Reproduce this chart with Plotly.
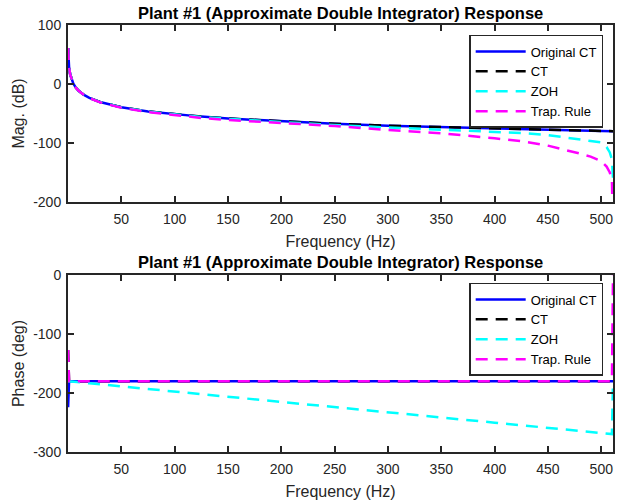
import plotly.graph_objects as go

# ---- data ----
freq_hz = [0.1, 0.5, 1, 2, 3, 5, 7.5, 10, 15, 20, 30, 40, 50, 75, 100, 125, 150,
           200, 250, 300, 350, 400, 425, 450, 470, 480, 490, 500, 505, 508, 510, 511]

orig_mag = [61, 40, 28.5, 16.5, 9.5, 0.5, -6.5, -11.5, -18.5, -23.5, -30.5, -35.5, -39.5,
            -46.5, -51.5, -55.3, -58.5, -63.5, -67.5, -70.7, -73.3, -75.6, -76.6, -77.6,
            -78.4, -78.7, -79.1, -79.5, -79.7, -79.8, -79.8, -79.9]
ct_mag = [61, 40, 28.5, 16.5, 9.5, 0.5, -6.5, -11.5, -18.5, -23.5, -30.5, -35.5, -39.5,
          -46.5, -51.5, -55.3, -58.5, -63.5, -67.5, -70.7, -73.3, -75.6, -76.6, -77.6,
          -78.4, -78.7, -79.1, -79.5, -79.7, -79.8, -79.8, -79.9]
zoh_mag = [61, 40, 28.5, 16.5, 9.5, 0.5, -6.5, -11.5, -18.5, -23.5, -30.6, -35.6, -39.6,
           -46.7, -51.8, -55.8, -59.1, -64.5, -69.5, -73.7, -77.1, -80.8, -83.1, -86.6,
           -91, -94.2, -96.6, -99, -107, -116, -128, -160]
trap_mag = [61, 40, 28.4, 16.4, 9.4, 0.4, -6.6, -11.6, -18.7, -23.8, -31, -36.2, -40.3,
            -47.8, -53, -57.5, -61, -65.6, -71.2, -78, -83.6, -92, -97, -104.5,
            -113, -118, -123, -131, -140, -150, -165, -250]

orig_phase = [-224, -180, -180, -180, -180, -180, -180, -180, -180, -180, -180, -180, -180,
              -180, -180, -180, -180, -180, -180, -180, -180, -180, -180, -180, -180, -180,
              -180, -180, -180, -180, -180, -180]
ct_phase = [-127, -180, -180, -180, -180, -180, -180, -180, -180, -180, -180, -180, -180,
            -180, -180, -180, -180, -180, -180, -180, -180, -180, -180, -180, -180, -180,
            -180, -180, -180, -180, -180, -180]
zoh_phase = [-180, -180.1, -180.2, -180.4, -180.5, -180.9, -181.3, -181.8, -182.6, -183.5,
             -185.3, -187, -188.8, -193.2, -197.6, -202, -206.4, -215.2, -223.9, -232.7,
             -241.5, -250.3, -254.7, -259.1, -262.6, -264.4, -266.1, -267.9, -268.8,
             -269.3, -269.6, -180]
trap_phase = [-127, -180, -180, -180, -180, -180, -180, -180, -180, -180, -180, -180, -180,
              -180, -180, -180, -180, -180, -180, -180, -180, -180, -180, -180, -180, -180,
              -180, -180, -180, -180, -180, 0]

series_names = ["Original CT", "CT", "ZOH", "Trap. Rule"]
series_colors = ["#0000FF", "#000000", "#00FFFF", "#FF00FF"]
series_dash = ["solid", "12px,8px", "12px,8px", "12px,8px"]

title_text = "Plant #1 (Approximate Double Integrator) Response"
x_ticks = [50, 100, 150, 200, 250, 300, 350, 400, 450, 500]
x_tick_text = ["50", "100", "150", "200", "250", "300", "350", "400", "450", "500"]
mag_ticks = [-200, -100, 0, 100]
mag_tick_text = ["-200", "-100", "0", "100"]
phase_ticks = [-300, -200, -100, 0]
phase_tick_text = ["-300", "-200", "-100", "0"]

FONT = "Liberation Sans, Arial, Helvetica, sans-serif"
AX = "#262626"

fig = go.Figure()
mags = [orig_mag, ct_mag, zoh_mag, trap_mag]
phases = [orig_phase, ct_phase, zoh_phase, trap_phase]
for i in range(4):
    fig.add_trace(go.Scatter(x=freq_hz, y=mags[i], name=series_names[i], mode="lines",
                             line=dict(color=series_colors[i], width=2.5, dash=series_dash[i]),
                             xaxis="x", yaxis="y", legend="legend"))
for i in range(4):
    fig.add_trace(go.Scatter(x=freq_hz, y=phases[i], name=series_names[i], mode="lines",
                             line=dict(color=series_colors[i], width=2.5, dash=series_dash[i]),
                             xaxis="x2", yaxis="y2", legend="legend2"))

top_dom = [0.5855, 1.0]
bot_dom = [0.0, 0.4145]

axis_common = dict(showline=True, linecolor=AX, linewidth=2, mirror="allticks",
                   ticks="inside", ticklen=6, tickwidth=2, tickcolor=AX,
                   showgrid=False, zeroline=False, automargin=False,
                   tickfont=dict(family=FONT, size=14, color=AX))
xtitle = dict(text="Frequency (Hz)", font=dict(family=FONT, size=16, color=AX), standoff=10)
legend_common = dict(x=0.982, xanchor="right", yanchor="top",
                     bgcolor="white", bordercolor=AX, borderwidth=1.5,
                     font=dict(family=FONT, size=13, color="black"),
                     itemwidth=50, tracegroupgap=0)

fig.update_layout(
    width=623, height=502,
    margin=dict(l=68, r=10, t=25, b=50, autoexpand=False),
    paper_bgcolor="white", plot_bgcolor="white",
    font=dict(family=FONT, size=14, color=AX),
    xaxis=dict(domain=[0, 1], anchor="y", range=[0, 511], tickvals=x_ticks,
               ticktext=x_tick_text, ticklabelstandoff=3, title=xtitle, **axis_common),
    yaxis=dict(domain=top_dom, anchor="x", range=[-200, 100], tickvals=mag_ticks,
               ticktext=mag_tick_text, ticklabelstandoff=2,
               title=dict(text="Mag. (dB)", font=dict(family=FONT, size=16, color=AX), standoff=5),
               **axis_common),
    xaxis2=dict(domain=[0, 1], anchor="y2", range=[0, 511], tickvals=x_ticks,
                ticktext=x_tick_text, ticklabelstandoff=3, title=xtitle, **axis_common),
    yaxis2=dict(domain=bot_dom, anchor="x2", range=[-300, 0], tickvals=phase_ticks,
                ticktext=phase_tick_text, ticklabelstandoff=2,
                title=dict(text="Phase (deg)", font=dict(family=FONT, size=16, color=AX), standoff=5),
                **axis_common),
    legend=dict(y=0.9766, **legend_common),
    legend2=dict(y=0.3958, **legend_common),
    showlegend=True,
    annotations=[
        dict(text="<b>" + title_text + "</b>", x=0.5, y=1.0, xref="paper", yref="paper",
             xanchor="center", yanchor="middle", yshift=12.5, showarrow=False,
             font=dict(family=FONT, size=16.5, color="black")),
        dict(text="<b>" + title_text + "</b>", x=0.5, y=bot_dom[1], xref="paper", yref="paper",
             xanchor="center", yanchor="middle", yshift=13, showarrow=False,
             font=dict(family=FONT, size=16.5, color="black")),
    ],
)

fig.write_html("out.html", config={"displayModeBar": False},
               post_script="document.body.style.margin='0';document.body.style.overflow='hidden';")
